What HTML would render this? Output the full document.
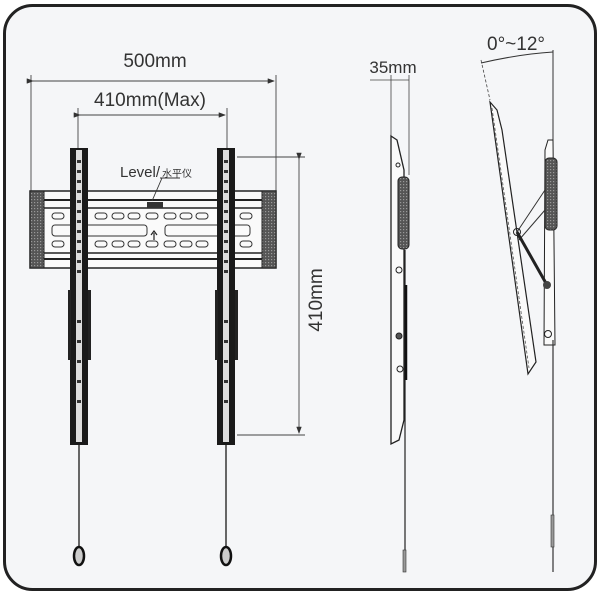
<!DOCTYPE html>
<html><head><meta charset="utf-8"><style>
html,body{margin:0;padding:0;background:#fff;}
svg{display:block;}
text{font-family:"Liberation Sans",Arial,sans-serif;fill:#333;}
</style></head><body>
<svg width="600" height="598" viewBox="0 0 600 598" xmlns="http://www.w3.org/2000/svg">
<defs>
<pattern id="grate" width="3" height="3" patternUnits="userSpaceOnUse">
<rect width="3" height="3" fill="#555"/><rect x="1" y="1" width="1.2" height="1.2" fill="#999"/>
</pattern>
<marker id="ar" markerWidth="8" markerHeight="6" refX="7" refY="3" orient="auto"><path d="M0,0 L8,3 L0,6 z" fill="#333"/></marker>
</defs>
<rect x="4.5" y="5.5" width="591" height="584" rx="28" fill="#f5f6f8" stroke="#222" stroke-width="3"/>

<text x="155" y="67" font-size="19" text-anchor="middle">500mm</text>
<line x1="31" y1="75" x2="31" y2="192" stroke="#444" stroke-width="0.9"/>
<line x1="276" y1="75" x2="276" y2="192" stroke="#444" stroke-width="0.9"/>
<line x1="33" y1="81" x2="274" y2="81" stroke="#444" stroke-width="0.9" marker-end="url(#ar)" marker-start="url(#ar)"/>
<text x="150" y="106" font-size="19" text-anchor="middle">410mm(Max)</text>
<line x1="78" y1="108" x2="78" y2="150" stroke="#444" stroke-width="0.9"/>
<line x1="227" y1="108" x2="227" y2="150" stroke="#444" stroke-width="0.9"/>
<line x1="80" y1="115" x2="225" y2="115" stroke="#444" stroke-width="0.9" marker-end="url(#ar)" marker-start="url(#ar)"/>

<rect x="30" y="191" width="246" height="77" fill="#fafafa" stroke="#222" stroke-width="1.5"/>
<rect x="30" y="191" width="14" height="77" fill="url(#grate)" stroke="#222"/>
<rect x="262" y="191" width="14" height="77" fill="url(#grate)" stroke="#222"/>
<line x1="44" y1="200" x2="262" y2="200" stroke="#222" stroke-width="2"/>
<line x1="44" y1="208" x2="262" y2="208" stroke="#222" stroke-width="1.5"/>
<line x1="44" y1="253" x2="262" y2="253" stroke="#222" stroke-width="1.5"/>
<line x1="44" y1="259" x2="262" y2="259" stroke="#222" stroke-width="2"/>
<g fill="none" stroke="#333" stroke-width="1">
<rect x="52" y="213" width="12" height="6" rx="3"/><rect x="95" y="213" width="12" height="6" rx="3"/><rect x="112" y="213" width="12" height="6" rx="3"/><rect x="128" y="213" width="12" height="6" rx="3"/><rect x="146" y="213" width="12" height="6" rx="3"/><rect x="164" y="213" width="12" height="6" rx="3"/><rect x="180" y="213" width="12" height="6" rx="3"/><rect x="196" y="213" width="12" height="6" rx="3"/><rect x="240" y="213" width="12" height="6" rx="3"/>
<rect x="52" y="241" width="12" height="6" rx="3"/><rect x="95" y="241" width="12" height="6" rx="3"/><rect x="112" y="241" width="12" height="6" rx="3"/><rect x="128" y="241" width="12" height="6" rx="3"/><rect x="146" y="241" width="12" height="6" rx="3"/><rect x="164" y="241" width="12" height="6" rx="3"/><rect x="180" y="241" width="12" height="6" rx="3"/><rect x="196" y="241" width="12" height="6" rx="3"/><rect x="240" y="241" width="12" height="6" rx="3"/>
<rect x="52" y="225" width="95" height="11" rx="3"/><rect x="165" y="225" width="85" height="11" rx="3"/>
</g>
<path d="M154 240 L154 233 M151 235 L154 231 L157 235" stroke="#222" fill="none" stroke-width="1.2"/>
<rect x="147" y="202" width="16" height="6" fill="#333"/>
<text x="120" y="177" font-size="15">Level/</text>
<text x="162" y="177" font-size="10" style="font-family:'Noto Sans CJK SC',sans-serif">水平仪</text>
<line x1="162" y1="178" x2="152" y2="201" stroke="#333" stroke-width="0.9"/>
<line x1="160" y1="178" x2="180" y2="178" stroke="#333" stroke-width="0.9"/>

<g>
<rect x="70" y="148" width="18" height="297" fill="#1a1a1a"/>
<rect x="76" y="150" width="6" height="292" fill="#ddd"/>
<g fill="#333"><rect x="77" y="160" width="4" height="3"/><rect x="77" y="170" width="4" height="3"/><rect x="77" y="180" width="4" height="3"/><rect x="77" y="190" width="4" height="3"/><rect x="77" y="200" width="4" height="3"/><rect x="77" y="210" width="4" height="3"/><rect x="77" y="220" width="4" height="3"/><rect x="77" y="230" width="4" height="3"/><rect x="77" y="240" width="4" height="3"/><rect x="77" y="250" width="4" height="3"/><rect x="77" y="260" width="4" height="3"/><rect x="77" y="270" width="4" height="3"/><rect x="77" y="320" width="4" height="3"/><rect x="77" y="340" width="4" height="3"/><rect x="77" y="360" width="4" height="3"/><rect x="77" y="380" width="4" height="3"/><rect x="77" y="400" width="4" height="3"/></g>
<rect x="68" y="290" width="3" height="70" fill="#222"/><rect x="88" y="290" width="3" height="70" fill="#222"/>
<line x1="79" y1="445" x2="79" y2="548" stroke="#666" stroke-width="2"/>
<ellipse cx="79" cy="556" rx="5" ry="9" fill="#ccc" stroke="#111" stroke-width="2.5"/>
</g>
<g>
<rect x="217" y="148" width="18" height="297" fill="#1a1a1a"/>
<rect x="223" y="150" width="6" height="292" fill="#ddd"/>
<g fill="#333"><rect x="224" y="160" width="4" height="3"/><rect x="224" y="170" width="4" height="3"/><rect x="224" y="180" width="4" height="3"/><rect x="224" y="190" width="4" height="3"/><rect x="224" y="200" width="4" height="3"/><rect x="224" y="210" width="4" height="3"/><rect x="224" y="220" width="4" height="3"/><rect x="224" y="230" width="4" height="3"/><rect x="224" y="240" width="4" height="3"/><rect x="224" y="250" width="4" height="3"/><rect x="224" y="260" width="4" height="3"/><rect x="224" y="270" width="4" height="3"/><rect x="224" y="320" width="4" height="3"/><rect x="224" y="340" width="4" height="3"/><rect x="224" y="360" width="4" height="3"/><rect x="224" y="380" width="4" height="3"/><rect x="224" y="400" width="4" height="3"/></g>
<rect x="215" y="290" width="3" height="70" fill="#222"/><rect x="235" y="290" width="3" height="70" fill="#222"/>
<line x1="226" y1="445" x2="226" y2="548" stroke="#666" stroke-width="2"/>
<ellipse cx="226" cy="556" rx="5" ry="9" fill="#ccc" stroke="#111" stroke-width="2.5"/>
</g>

<line x1="237" y1="157" x2="305" y2="157" stroke="#444" stroke-width="0.9"/>
<line x1="237" y1="435" x2="305" y2="435" stroke="#444" stroke-width="0.9"/>
<line x1="299" y1="159" x2="299" y2="433" stroke="#444" stroke-width="0.9" marker-end="url(#ar)" marker-start="url(#ar)"/>
<text x="0" y="0" font-size="19" text-anchor="middle" transform="translate(322,300) rotate(-90)">410mm</text>

<text x="393" y="73" font-size="17" text-anchor="middle">35mm</text>
<line x1="370" y1="80" x2="409" y2="80" stroke="#444" stroke-width="0.8"/>
<line x1="391" y1="75" x2="391" y2="145" stroke="#444" stroke-width="0.8"/>
<line x1="409" y1="75" x2="409" y2="175" stroke="#444" stroke-width="0.8"/>
<path d="M391 136 L397 140 L404 170 L404 420 L399 440 L391 444 Z" fill="#fafafa" stroke="#222" stroke-width="1.3"/>
<rect x="398" y="177" width="11" height="72" rx="4" fill="url(#grate)" stroke="#222"/>
<line x1="405" y1="250" x2="405" y2="570" stroke="#222" stroke-width="1.2"/>
<line x1="406" y1="285" x2="406" y2="380" stroke="#111" stroke-width="2.5"/>
<circle cx="399" cy="270" r="3" fill="none" stroke="#222"/><circle cx="399" cy="336" r="3" fill="#555" stroke="#222"/><circle cx="400" cy="369" r="3" fill="none" stroke="#222"/><circle cx="398" cy="165" r="2" fill="none" stroke="#222"/>
<rect x="403" y="550" width="3" height="22" fill="#999" stroke="#333" stroke-width="0.6"/>

<text x="516" y="50" font-size="19" text-anchor="middle">0°~12°</text>
<path d="M481 63 Q520 54 553 52" fill="none" stroke="#333" stroke-width="1"/>
<line x1="481" y1="60" x2="490" y2="100" stroke="#444" stroke-width="0.8" stroke-dasharray="3,2"/>
<line x1="553" y1="50" x2="553" y2="150" stroke="#333" stroke-width="1"/>
<path d="M490 102 L497 110 L502 130 L536 362 L528 374 Z" fill="#fafafa" stroke="#222" stroke-width="1.2"/>
<line x1="492" y1="108" x2="529" y2="368" stroke="#555" stroke-width="0.8" stroke-dasharray="3,2"/>
<path d="M548 140 L545 150 L544 345 L555 345 L553 140 Z" fill="#fafafa" stroke="#222"/>
<rect x="545" y="158" width="12" height="72" rx="4" fill="url(#grate)" stroke="#222"/>
<path d="M517 232 L545 190 M519 240 L545 210" stroke="#333" fill="none"/>
<path d="M517 232 L547 285" stroke="#222" stroke-width="3"/>
<circle cx="517" cy="232" r="3.5" fill="none" stroke="#222"/><circle cx="547" cy="285" r="4" fill="#444"/>
<circle cx="548" cy="334" r="3.5" fill="none" stroke="#222"/>
<line x1="553" y1="340" x2="553" y2="572" stroke="#333" stroke-width="1.2"/>
<rect x="551" y="515" width="3" height="32" fill="#999" stroke="#333" stroke-width="0.6"/>
</svg>
</body></html>
